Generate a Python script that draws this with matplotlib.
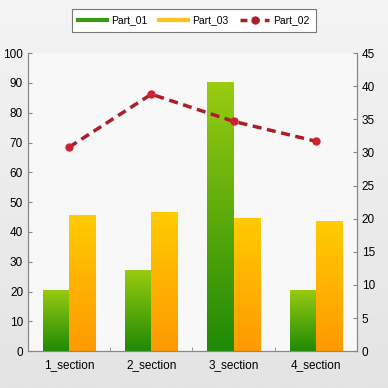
import numpy as np
from matplotlib import pyplot as plt
from matplotlib.colors import LinearSegmentedColormap
from matplotlib.lines import Line2D

sections = ['1_section', '2_section', '3_section', '4_section']
part_01 = [20.5, 27.3, 90.2, 20.5]
part_03 = [45.8, 46.8, 44.8, 43.8]
part_02 = [30.8, 38.8, 34.7, 31.7]

plt.rcParams['font.family'] = ['Liberation Sans', 'DejaVu Sans']

green_cm = LinearSegmentedColormap.from_list('g', ['#1f8a05', '#99cc11'])
orange_cm = LinearSegmentedColormap.from_list('o', ['#ff9900', '#ffcc00'])


def grad_bars(ax, bars, cmap):
    grad = np.linspace(0, 1, 256).reshape(-1, 1)
    for b in bars:
        x0, y0 = b.get_x(), b.get_y()
        w, h = b.get_width(), b.get_height()
        im = ax.imshow(grad, cmap=cmap, origin='lower', aspect='auto',
                       extent=[x0, x0 + w, y0, y0 + h], zorder=2)
        im.set_clip_path(b)
        b.set_facecolor('none')


fig = plt.figure(figsize=(3.88, 3.88), dpi=100)
bg = np.linspace(0, 1, 256).reshape(-1, 1)
bg_cm = LinearSegmentedColormap.from_list('bg', ['#f4f4f4', '#e4e4e4'])
bg_ax = fig.add_axes([0, 0, 1, 1], zorder=-1)
bg_ax.imshow(bg, cmap=bg_cm, aspect='auto')
bg_ax.axis('off')

ax = fig.add_axes([0.072, 0.095, 0.848, 0.768])
ax.set_facecolor('#f8f8f8')
x = np.arange(len(sections))
w = 0.32
b1 = ax.bar(x - w / 2, part_01, w, zorder=2, linewidth=0)
b3 = ax.bar(x + w / 2, part_03, w, zorder=2, linewidth=0)
grad_bars(ax, b1, green_cm)
grad_bars(ax, b3, orange_cm)
ax.set_xlim(-0.5, 3.5)
ax.set_ylim(0, 100)
ax.set_yticks(range(0, 101, 10))
ax.set_xticks(x)
ax.set_xticklabels(sections)
ax.set_xticks([0.5, 1.5, 2.5], minor=True)
ax.tick_params(axis='x', which='major', length=0, pad=6)
ax.tick_params(axis='x', which='minor', direction='in', length=3, color='#888888')
ax.tick_params(axis='y', direction='in', length=3, color='#888888', labelsize=8.5)
ax.tick_params(axis='x', labelsize=8.5)
for s in ['left', 'right', 'bottom']:
    ax.spines[s].set_color('#888888')
ax.spines['top'].set_visible(False)

ax2 = ax.twinx()
ax2.plot(x, part_02, color='#aa1e2a', linestyle='--', linewidth=2.5,
         dashes=(2.6, 1.6), marker='o', markersize=5, markerfacecolor='#cc2233',
         markeredgecolor='#cc2233')
ax2.set_ylim(0, 45)
ax2.set_yticks(range(0, 46, 5))
ax2.tick_params(axis='y', direction='in', length=3, color='#888888', labelsize=8.5)
for s in ['left', 'right', 'bottom']:
    ax2.spines[s].set_color('#888888')
ax2.spines['top'].set_visible(False)

handles = [Line2D([], [], color='#3a9a10', linewidth=3),
           Line2D([], [], color='#ffc21a', linewidth=3),
           Line2D([], [], color='#aa1e2a', linewidth=2.5, linestyle='--',
                  dashes=(2, 1.5), marker='o', markersize=5)]
leg = fig.legend(handles, ['Part_01', 'Part_03', 'Part_02'], loc='upper center',
                 bbox_to_anchor=(0.5, 0.99), ncol=3, fontsize=7.5, frameon=True,
                 fancybox=False, edgecolor='#777777', framealpha=1,
                 handlelength=2.8, columnspacing=1.1, handletextpad=0.4,
                 borderpad=0.6)
leg.get_frame().set_linewidth(0.8)

fig.savefig('out.png', dpi=100)
